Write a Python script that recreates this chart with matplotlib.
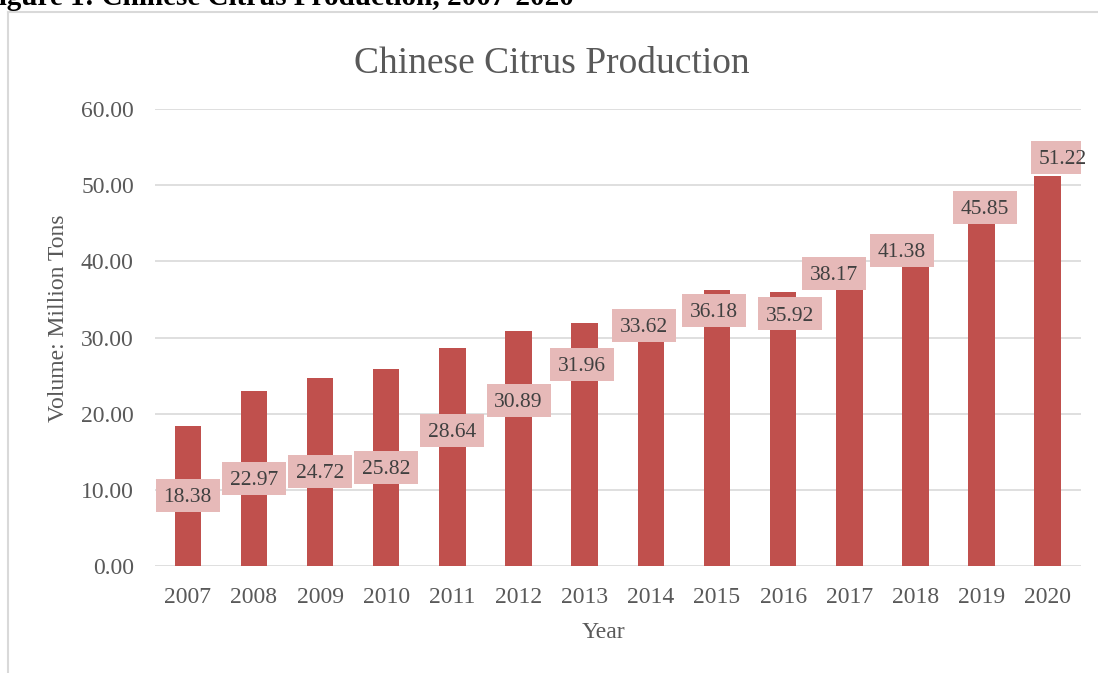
import matplotlib
matplotlib.use("Agg")
import matplotlib.pyplot as plt
from matplotlib.patches import Rectangle
from matplotlib.lines import Line2D
import numpy as np

# data
years = ['2007', '2008', '2009', '2010', '2011', '2012', '2013',
         '2014', '2015', '2016', '2017', '2018', '2019', '2020']
volume = [18.38, 22.97, 24.72, 25.82, 28.64, 30.89, 31.96,
          33.62, 36.18, 35.92, 38.17, 41.38, 45.85, 51.22]

# where the (hand-moved) data labels sit: y centre and x shift in category units
label_y = [9.26, 11.51, 12.43, 12.96, 17.81, 21.75, 26.48,
           31.6, 33.57, 33.1, 38.43, 41.45, 47.09, 53.65]
label_dx = [0, 0, 0, 0, 0, 0, -0.036,
            -0.11, -0.04, 0.11, -0.23, -0.2, 0.05, 0.23]

plt.rcParams['font.family'] = ['Liberation Serif', 'DejaVu Serif']

W, H = 1098, 673
fig = plt.figure(figsize=(W / 100, H / 100), dpi=100)
ax = fig.add_axes([154.7 / W, 1 - 566 / H, 926.1 / W, 457 / H])

x = np.arange(len(years))
ax.bar(x, volume, width=0.4, color='#C0504D', zorder=2)

# data label boxes
bw, bh = 64 / 66.15, 33 / 7.617
for i in range(len(years)):
    cx = x[i] + label_dx[i]
    cy = label_y[i]
    ax.add_patch(Rectangle((cx - bw / 2, cy - bh / 2), bw, bh,
                           facecolor='#E6B9B8', edgecolor='none', zorder=3))
    ax.text(cx, cy, f'{volume[i]:.2f}', ha='center', va='center_baseline',
            fontsize=15.5, color='#404040', zorder=4)

ax.set_xlim(-0.5, len(years) - 0.5)
ax.set_ylim(0, 60)
ax.set_yticks(np.arange(0, 61, 10))
ax.set_yticklabels([f'{v:.2f}' for v in np.arange(0, 61, 10)])
ax.set_xticks(x)
ax.set_xticklabels(years)
ax.tick_params(axis='both', length=0, labelsize=17, labelcolor='#595959')
ax.tick_params(axis='y', pad=15)
ax.tick_params(axis='x', pad=15)
ax.grid(axis='y', color='#D9D9D9', linewidth=1.2, zorder=0)
ax.set_axisbelow(True)
for s in ax.spines.values():
    s.set_visible(False)

fig.text(551.5 / W, 1 - 73 / H, 'Chinese Citrus Production', ha='center',
         va='baseline', fontsize=27, color='#595959')
fig.text(59 / W, 1 - 318 / H, 'Volume: Million Tons', rotation=90,
         ha='center', va='center', fontsize=17, color='#595959')
fig.text(603 / W, 1 - 632 / H, 'Year', ha='center', va='center',
         fontsize=17, color='#595959')

# caption of the page, cut at the top edge
fig.text(-19 / W, 1 - 5 / H, 'Figure 1: Chinese Citrus Production, 2007-2020',
         ha='left', va='baseline', fontsize=21, fontweight='bold', color='black')

# chart frame (only left and top edges visible)
fig.add_artist(Line2D([7.5 / W, 7.5 / W], [0, 1 - 12 / H], color='#D9D9D9', lw=1.5))
fig.add_artist(Line2D([7.5 / W, 1], [1 - 12 / H, 1 - 12 / H], color='#D9D9D9', lw=1.5))

fig.savefig('out.png', dpi=100)
